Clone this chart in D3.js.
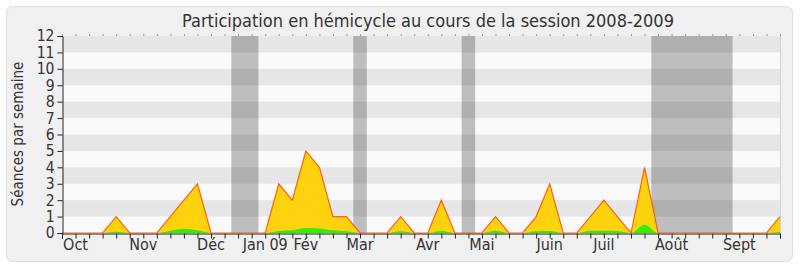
<!DOCTYPE html>
<html>
<head>
<meta charset="utf-8">
<script src="https://cdn.jsdelivr.net/npm/d3@7"></script>
<style>
  body { margin: 0; background: #fff; }
  svg text { font-family: "DejaVu Sans Condensed", "DejaVu Sans", sans-serif; fill: #333; }
</style>
</head>
<body>
<svg id="chart" width="800" height="267"></svg>
<script>
'use strict';

// weekly values, one per week from late sept 2008 to late sept 2009
var totalSeances = [0,0,0,0,1,0,0,0,1,2,3,0,0,0,0,0,3,2,5,4,1,1,0,0,0,1,0,0,2,0,0,0,1,0,0,1,3,0,0,1,2,1,0,4,0,0,0,0,0,0,0,0,0,1];
var presenceSeances = [0,0,0,0,0.08,0,0,0,0.14,0.26,0.16,0,0,0,0,0,0.12,0.16,0.3,0.28,0.16,0.1,0,0,0,0.1,0,0,0.14,0,0,0,0.14,0,0,0.1,0.12,0,0,0.14,0.14,0.12,0,0.5,0,0,0,0,0,0,0,0,0,0.06];

var monthLabels = ['Oct','Nov','Déc','Jan 09','Fév','Mar','Avr','Mai','Juin','Juil','Août','Sept'];
var monthWeeks = [1,6,11,15,18,22,27,31,36,40,45,50];

// parliamentary holidays (in weeks)
var vacStart = [12.5, 21.5, 29.5, 43.5];
var vacEnd = [14.5, 22.5, 30.5, 49.5];

var yTicks = [0,1,2,3,4,5,6,7,8,9,10,11,12];

var svg = d3.select('#chart');

svg.append('rect')
  .attr('x', 6.5).attr('y', 6.5)
  .attr('width', 786).attr('height', 255)
  .attr('rx', 6)
  .attr('fill', '#f0f0f0')
  .attr('stroke', '#dedede');

var x = d3.scaleLinear().domain([0, totalSeances.length - 1]).range([62, 780]);
var y = d3.scaleLinear().domain([0, 12]).range([233, 36]);

// plot background + stripes
svg.append('rect')
  .attr('x', x(0)).attr('y', y(12))
  .attr('width', x(53) - x(0)).attr('height', y(0) - y(12))
  .attr('fill', '#fafafa');

svg.selectAll('.stripe')
  .data(yTicks.filter(function(d){ return d % 2 == 1; }))
  .enter().append('rect')
    .attr('class', 'stripe')
    .attr('x', x(0))
    .attr('y', function(d){ return y(d + 1); })
    .attr('width', x(53) - x(0))
    .attr('height', function(d){ return y(d) - y(d + 1); })
    .attr('fill', '#e6e6e6');

svg.append('line')
  .attr('x1', x(53) + 0.5).attr('x2', x(53) + 0.5)
  .attr('y1', y(12)).attr('y2', y(0))
  .attr('stroke', '#d0d0d0');

// holidays
svg.selectAll('.vac')
  .data(vacStart)
  .enter().append('rect')
    .attr('class', 'vac')
    .attr('x', function(d){ return x(d); })
    .attr('y', y(12))
    .attr('width', function(d, i){ return x(vacEnd[i]) - x(d); })
    .attr('height', y(0) - y(12))
    .attr('fill', '#000')
    .attr('fill-opacity', 0.24);

// areas
var areaTotal = d3.area()
  .x(function(d, i){ return x(i); })
  .y0(y(0))
  .y1(function(d){ return y(d); });

var lineTotal = d3.line()
  .x(function(d, i){ return x(i); })
  .y(function(d){ return y(d); });

var areaPresence = d3.area()
  .curve(d3.curveMonotoneX)
  .x(function(d, i){ return x(i); })
  .y0(y(0))
  .y1(function(d){ return y(d); });

svg.append('path')
  .datum(totalSeances)
  .attr('d', areaTotal)
  .attr('fill', '#ffd20f');

svg.append('path')
  .datum(presenceSeances)
  .attr('d', areaPresence)
  .attr('fill', '#33ee00');

// axes
var xAxis = d3.axisBottom(x)
  .tickValues(d3.range(totalSeances.length))
  .tickSize(5)
  .tickFormat('');

svg.append('g')
  .attr('transform', 'translate(0,' + (y(0) + 0.5) + ')')
  .call(xAxis)
  .call(function(g){
    g.selectAll('line').attr('stroke', '#222');
    g.select('.domain').attr('stroke', '#222');
  });

svg.append('path')
  .datum(totalSeances)
  .attr('d', lineTotal)
  .attr('fill', 'none')
  .attr('stroke', '#ff4a00')
  .attr('stroke-opacity', 0.85)
  .attr('stroke-width', 1.2);

var topAxis = d3.axisTop(x)
  .tickValues(d3.range(totalSeances.length))
  .tickSize(1)
  .tickFormat('');

svg.append('g')
  .attr('transform', 'translate(0,' + (y(12) - 0.5) + ')')
  .call(topAxis)
  .call(function(g){
    g.select('.domain').remove();
    g.selectAll('line').attr('stroke', '#444');
  });

var yAxis = d3.axisLeft(y)
  .tickValues(yTicks)
  .tickSize(5)
  .tickPadding(3);

svg.append('g')
  .attr('transform', 'translate(' + (x(0) + 0.5) + ',0)')
  .call(yAxis)
  .call(function(g){
    g.select('.domain').attr('stroke', '#222');
    g.selectAll('line').attr('stroke', '#222');
    g.selectAll('text')
      .attr('font-size', 15.5)
      .attr('fill', '#333')
      .style('font-family', '"DejaVu Sans Condensed", "DejaVu Sans", sans-serif');
  });

svg.selectAll('.month')
  .data(monthLabels)
  .enter().append('text')
    .attr('class', 'month')
    .attr('x', function(d, i){ return x(monthWeeks[i]); })
    .attr('y', 250)
    .attr('text-anchor', 'middle')
    .attr('font-size', 16)
    .text(function(d){ return d; });

svg.append('text')
  .attr('x', 428)
  .attr('y', 27)
  .attr('text-anchor', 'middle')
  .attr('font-size', 18)
  .text('Participation en hémicycle au cours de la session 2008-2009');

svg.append('text')
  .attr('transform', 'translate(23,134) rotate(-90)')
  .attr('text-anchor', 'middle')
  .attr('font-size', 15)
  .text('Séances par semaine');
</script>
</body>
</html>
